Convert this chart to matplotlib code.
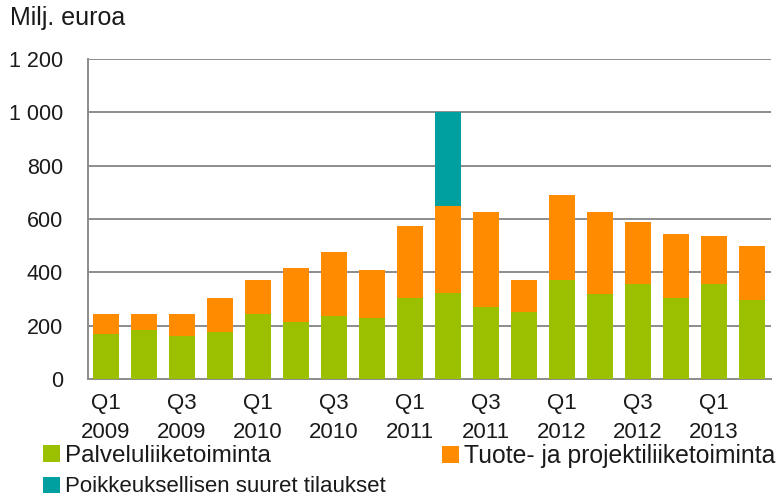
import matplotlib
matplotlib.use("Agg")
import matplotlib.pyplot as plt
import numpy as np

quarters = ["Q1\n2009", "", "Q3\n2009", "", "Q1\n2010", "", "Q3\n2010", "",
            "Q1\n2011", "", "Q3\n2011", "", "Q1\n2012", "", "Q3\n2012", "",
            "Q1\n2013", ""]
palvelu = [170, 185, 163, 176, 244, 214, 236, 230, 304, 324, 271, 250, 371, 318, 356, 304, 356, 296]
tuote = [72, 57, 79, 128, 126, 201, 239, 177, 269, 325, 354, 120, 320, 307, 233, 239, 179, 202]
poikk = [0, 0, 0, 0, 0, 0, 0, 0, 0, 351, 0, 0, 0, 0, 0, 0, 0, 0]
series_names = ["Palveluliiketoiminta", "Tuote- ja projektiliiketoiminta",
                "Poikkeuksellisen suuret tilaukset"]
yticks = [0, 200, 400, 600, 800, 1000, 1200]
ytick_labels = ["0", "200", "400", "600", "800", "1 000", "1 200"]

GREEN = "#9BC000"
ORANGE = "#FF8C00"
TEAL = "#00A0A0"
GRID = "#8C8C8C"
TXT = "#1a1a1a"

plt.rcParams['font.family'] = ['Liberation Sans', 'DejaVu Sans']

fig = plt.figure(figsize=(7.82, 5.0), dpi=100)
ax = fig.add_axes([88/782, 1 - 379/500, (770.7 - 88)/782, (379 - 59)/500])

x = np.arange(len(palvelu))
w = 0.69
b1 = ax.bar(x, palvelu, w, color=GREEN, label=series_names[0], zorder=3)
b2 = ax.bar(x, tuote, w, bottom=palvelu, color=ORANGE, label=series_names[1], zorder=3)
bottom3 = np.array(palvelu) + np.array(tuote)
b3 = ax.bar(x, poikk, w, bottom=bottom3, color=TEAL, label=series_names[2], zorder=3)

ax.set_xlim(-0.47, 17.5)
ax.set_ylim(0, 1200)
ax.set_yticks(yticks)
ax.set_yticklabels(ytick_labels, fontsize=15.5, color=TXT)
ax.yaxis.grid(True, color=GRID, linewidth=1.4, zorder=0)
ax.tick_params(axis='y', length=0, pad=18)
ax.set_xticks(x)
ax.set_xticklabels(quarters, fontsize=16, color=TXT, linespacing=1.5)
ax.tick_params(axis='x', length=0, pad=10)
for s in ["top", "right"]:
    ax.spines[s].set_visible(False)
for s in ["left", "bottom"]:
    ax.spines[s].set_color(GRID)
    ax.spines[s].set_linewidth(1.4)

fig.text(10/782, 1 - 18/500, "Milj. euroa", fontsize=18, va="center", ha="left",
         color=TXT)

def leg_kw(size):
    return dict(frameon=False, prop={'size': size}, handlelength=0.7 * 17.5 / size,
                handleheight=0.7 * 17.5 / size, handletextpad=0.2 * 17.5 / size,
                borderpad=0, borderaxespad=0, labelcolor=TXT)

fig.legend([b1], [series_names[0]], loc="center left",
           bbox_to_anchor=(43/782, 1 - 456/500), **leg_kw(17.5))
fig.legend([b2], [series_names[1]], loc="center left",
           bbox_to_anchor=(442/782, 1 - 456/500), **leg_kw(17.8))
fig.legend([b3], [series_names[2]], loc="center left",
           bbox_to_anchor=(43/782, 1 - 487/500), **leg_kw(16))

fig.savefig("out.png", dpi=100)
